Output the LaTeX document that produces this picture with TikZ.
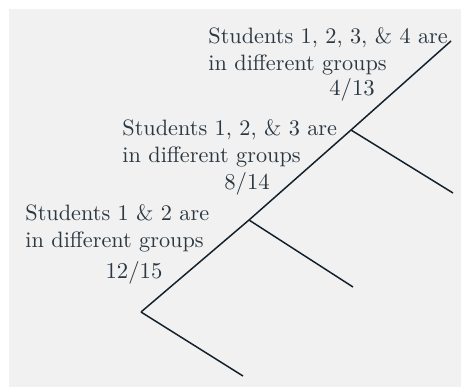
\documentclass[tikz,border=0pt]{standalone}
\usetikzlibrary{positioning}
\definecolor{ink}{HTML}{13202A}
\definecolor{labelink}{HTML}{2B3741}
\definecolor{paper}{HTML}{F1F1F1}

\begin{document}
\begin{tikzpicture}[x=0.4405pt,y=-0.4405pt,font=\fontsize{9.8}{12}\selectfont,
  branch/.style={draw=ink,line width=0.65pt},
  caption/.style={anchor=west,align=left,inner sep=0pt,text=labelink},
  share/.style={inner sep=0pt,text=labelink}]
  \useasboundingbox (0,0) rectangle (461,387);
  \fill[paper] (9,9) rectangle (461,387);
  % split points of the tree
  \coordinate (root) at (141,312);
  \coordinate (split2) at (249,220);
  \coordinate (split3) at (351,130);
  \coordinate (tip) at (451,41);
  \coordinate (leaf1) at (243,376);
  \coordinate (leaf2) at (353,287);
  \coordinate (leaf3) at (453,193);
  \draw[branch] (root) -- (split2) -- (split3) -- (tip);
  \draw[branch] (root) -- (leaf1);
  \draw[branch] (split2) -- (leaf2);
  \draw[branch] (split3) -- (leaf3);
  % what each step means
  \node[caption] (pair) at (25,228.5) {Students 1 \& 2 are\\in different groups};
  \node[caption] (triple) at (122,143) {Students 1, 2, \& 3 are\\in different groups};
  \node[caption] (quad) at (208,51) {Students 1, 2, 3, \& 4 are\\in different groups};
  \node[share] (p12) at (134,273) {$12/15$};
  \node[share] (p8) at (247,184) {$8/14$};
  \node[share] (p4) at (352,90) {$4/13$};
\end{tikzpicture}
\end{document}
